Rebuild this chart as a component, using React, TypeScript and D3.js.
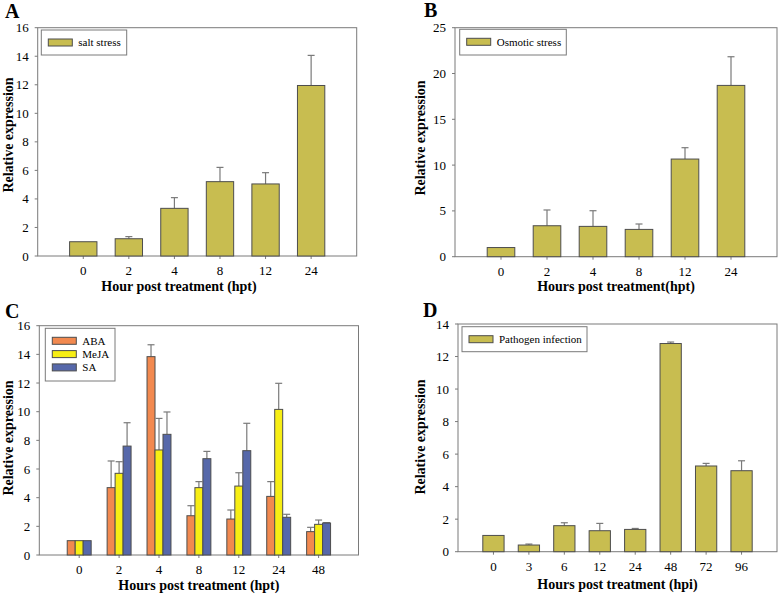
import React from "react";
import * as d3 from "d3";

const FONT = "Liberation Serif, Times New Roman, serif";

// Panel A
const catsA = ["0", "2", "4", "8", "12", "24"];
const saltVals = [1.0, 1.21, 3.34, 5.21, 5.05, 11.95];
const saltErr = [0, 0.15, 0.75, 1.0, 0.79, 2.11];
const ticksA = [0, 2, 4, 6, 8, 10, 12, 14, 16];

// Panel B
const catsB = ["0", "2", "4", "8", "12", "24"];
const osmVals = [1.0, 3.38, 3.31, 2.98, 10.66, 18.7];
const osmErr = [0, 1.72, 1.71, 0.59, 1.24, 3.13];
const ticksB = [0, 5, 10, 15, 20, 25];

// Panel C
const catsC = ["0", "2", "4", "8", "12", "24", "48"];
const abaVals = [1.0, 4.7, 13.84, 2.74, 2.51, 4.09, 1.63];
const abaErr = [0, 1.86, 0.83, 0.7, 0.63, 1.03, 0.3];
const mejaVals = [1.0, 5.7, 7.33, 4.7, 4.81, 10.16, 2.14];
const mejaErr = [0, 0.81, 2.2, 0.42, 0.93, 1.82, 0.3];
const saVals = [1.0, 7.6, 8.42, 6.72, 7.28, 2.63, 2.23];
const saErr = [0, 1.63, 1.56, 0.51, 1.91, 0.21, 0.03];
const ticksC = [0, 2, 4, 6, 8, 10, 12, 14, 16];

// Panel D
const catsD = ["0", "3", "6", "12", "24", "48", "72", "96"];
const pathVals = [1.0, 0.41, 1.6, 1.29, 1.37, 12.8, 5.27, 4.98];
const pathErr = [0, 0.06, 0.18, 0.45, 0.06, 0.09, 0.16, 0.61];
const ticksD = [0, 2, 4, 6, 8, 10, 12, 14];

const OLIVE = "#c8bd50";
const ORANGE = "#f2894f";
const YELLOW = "#f7ee14";
const BLUE = "#5668aa";
const AXIS = "#7a7a7a";
const EDGE = "#4d4d4d";
const ERR = "#7a7a7a";

type Series = { name: string; values: number[]; errors: number[]; color: string };

type PanelProps = {
  letter: string;
  letterX: number;
  letterY: number;
  left: number;
  right: number;
  top: number;
  bottom: number;
  cats: string[];
  ticks: number[];
  series: Series[];
  xTitle: string;
  xTitleX?: number;
  xTitleY: number;
  yTitleX: number;
  yTitleY: number;
  legend: { x: number; y: number; w: number; h: number };
};

function Panel(p: PanelProps) {
  const yMax = p.ticks[p.ticks.length - 1];
  const y = d3.scaleLinear().domain([0, yMax]).range([p.bottom, p.top]);
  const x = d3.scalePoint<string>().domain(p.cats).range([p.left, p.right]).padding(1);
  const step = x.step();
  const groupW = step * 0.6;
  const barW = groupW / p.series.length;
  const capW = 7;
  const cx = p.xTitleX ?? (p.left + p.right) / 2;

  return (
    <g>
      <text x={p.letterX} y={p.letterY} fontFamily={FONT} fontWeight="bold" fontSize={20}>
        {p.letter}
      </text>
      <rect x={p.left} y={p.top} width={p.right - p.left} height={p.bottom - p.top} fill="none" stroke={AXIS} strokeWidth={1} />
      {p.ticks.map((t) => (
        <g key={"yt" + t}>
          <line x1={p.left - 3} x2={p.left} y1={y(t)} y2={y(t)} stroke={AXIS} />
          <text x={p.left - 9} y={y(t) + 4.5} textAnchor="end" fontFamily={FONT} fontSize={13}>
            {t}
          </text>
        </g>
      ))}
      {p.cats.map((c) => (
        <g key={"xt" + c}>
          <line x1={x(c)!} x2={x(c)!} y1={p.bottom} y2={p.bottom + 3} stroke={AXIS} />
          <text x={x(c)!} y={p.bottom + 19} textAnchor="middle" fontFamily={FONT} fontSize={13}>
            {c}
          </text>
        </g>
      ))}
      {p.series.map((s, si) =>
        p.cats.map((c, i) => {
          const bx = x(c)! - groupW / 2 + si * barW;
          const v = s.values[i];
          const e = s.errors[i];
          const mid = bx + barW / 2;
          return (
            <g key={s.name + c}>
              {e > 0 && (
                <g>
                  <line x1={mid} x2={mid} y1={y(v)} y2={y(v + e)} stroke={ERR} strokeWidth={1.2} />
                  <line x1={mid - capW / 2} x2={mid + capW / 2} y1={y(v + e)} y2={y(v + e)} stroke={ERR} strokeWidth={1.2} />
                </g>
              )}
              <rect x={bx} y={y(v)} width={barW} height={p.bottom - y(v)} fill={s.color} stroke={EDGE} strokeWidth={1} />
            </g>
          );
        })
      )}
      <rect x={p.legend.x} y={p.legend.y} width={p.legend.w} height={p.legend.h} fill="white" stroke={AXIS} strokeWidth={1} />
      {p.series.map((s, si) => {
        const rowY = p.legend.y + 12.5 + si * 13.3;
        return (
          <g key={"lg" + s.name}>
            <rect x={p.legend.x + 7} y={rowY - 3.5} width={24} height={7} fill={s.color} stroke={EDGE} strokeWidth={1} />
            <text x={p.legend.x + 37} y={rowY + 3.8} fontFamily={FONT} fontSize={11}>
              {s.name}
            </text>
          </g>
        );
      })}
      <text x={cx} y={p.xTitleY} textAnchor="middle" fontFamily={FONT} fontWeight="bold" fontSize={14}>
        {p.xTitle}
      </text>
      <text
        transform={`translate(${p.yTitleX},${p.yTitleY}) rotate(-90)`}
        textAnchor="middle"
        fontFamily={FONT}
        fontWeight="bold"
        fontSize={14}
      >
        Relative expression
      </text>
    </g>
  );
}

export default function App() {
  return (
    <svg width={778} height={595} style={{ position: "absolute", left: 0, top: 0, background: "white" }}>
      <rect width={778} height={595} fill="white" />
      <Panel
        letter="A" letterX={5} letterY={18}
        left={37.7} right={356.7} top={27.7} bottom={256}
        cats={catsA} ticks={ticksA}
        series={[{ name: "salt stress", values: saltVals, errors: saltErr, color: OLIVE }]}
        xTitle="Hour post treatment (hpt)" xTitleX={179} xTitleY={291}
        yTitleX={12.5} yTitleY={135}
        legend={{ x: 41.3, y: 30, w: 85.4, h: 25 }}
      />
      <Panel
        letter="B" letterX={424} letterY={17}
        left={455} right={777} top={27.7} bottom={256.7}
        cats={catsB} ticks={ticksB}
        series={[{ name: "Osmotic stress", values: osmVals, errors: osmErr, color: OLIVE }]}
        xTitle="Hours post treatment(hpt)" xTitleY={291}
        yTitleX={424.5} yTitleY={138}
        legend={{ x: 459.7, y: 29.3, w: 106.6, h: 25.7 }}
      />
      <Panel
        letter="C" letterX={5} letterY={318}
        left={39.3} right={358.5} top={325.7} bottom={555}
        cats={catsC} ticks={ticksC}
        series={[
          { name: "ABA", values: abaVals, errors: abaErr, color: ORANGE },
          { name: "MeJA", values: mejaVals, errors: mejaErr, color: YELLOW },
          { name: "SA", values: saVals, errors: saErr, color: BLUE },
        ]}
        xTitle="Hours post treatment (hpt)" xTitleY={589.5}
        yTitleX={12.5} yTitleY={438}
        legend={{ x: 45.3, y: 328.3, w: 69.7, h: 52.7 }}
      />
      <Panel
        letter="D" letterX={423} letterY={317}
        left={458} right={777} top={324} bottom={551.7}
        cats={catsD} ticks={ticksD}
        series={[{ name: "Pathogen infection", values: pathVals, errors: pathErr, color: OLIVE }]}
        xTitle="Hours post treatment (hpi)" xTitleY={588.5}
        yTitleX={425} yTitleY={437}
        legend={{ x: 462, y: 326.7, w: 125, h: 25 }}
      />
    </svg>
  );
}
